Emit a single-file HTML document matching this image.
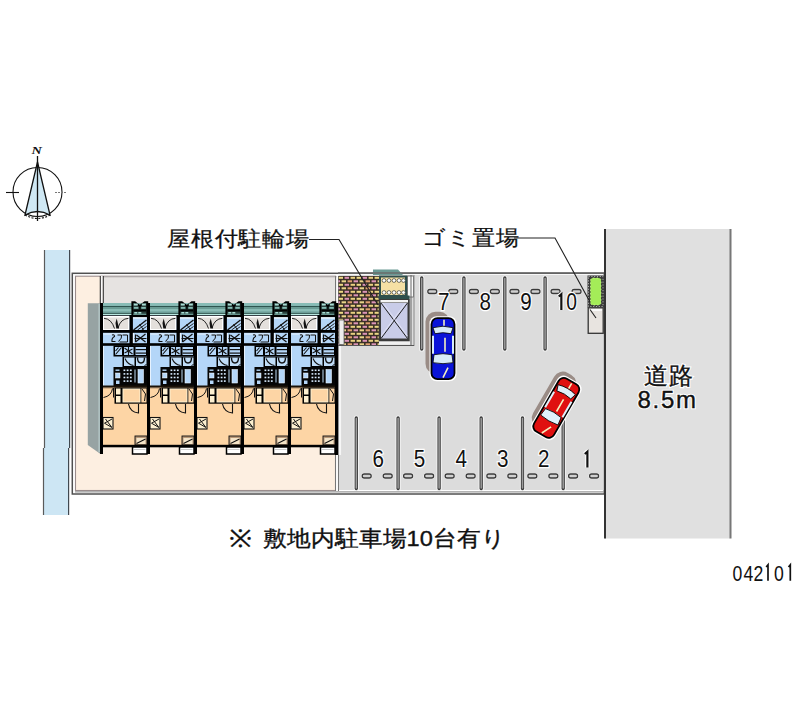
<!DOCTYPE html>
<html><head><meta charset="utf-8">
<style>
html,body{margin:0;padding:0;background:#fff;width:800px;height:727px;overflow:hidden}
svg{display:block}
text{font-family:"Liberation Sans",sans-serif}
</style></head><body>
<svg width="800" height="727" viewBox="0 0 800 727">
<defs>
<pattern id="brick" x="338" y="276" width="18" height="7" patternUnits="userSpaceOnUse">
<rect width="18" height="7" fill="#3a3026"/>
<rect x="0.6" y="0.8" width="4.4" height="2" fill="#ecd884"/>
<rect x="6.6" y="0.8" width="4.4" height="2" fill="#dc94b8"/>
<rect x="12.6" y="0.8" width="4.4" height="2" fill="#e8cf80"/>
<rect x="3.6" y="4.3" width="4.4" height="2" fill="#e8d488"/>
<rect x="9.6" y="4.3" width="4.4" height="2" fill="#e0a070"/>
<rect x="15.6" y="4.3" width="4.4" height="2" fill="#dc94b8"/>
<rect x="-2.4" y="4.3" width="4.4" height="2" fill="#dc94b8"/>
</pattern>
</defs>

<g fill="none" stroke="#111">
<circle cx="37.5" cy="192" r="24.5" stroke-width="1.1"/>
<path d="M37.5 162 L50 215 Q37.5 208 25 215 Z" fill="#cfe8f4" stroke-width="1.3"/>
<line x1="37.5" y1="156" x2="37.5" y2="221" stroke-width="1.3"/>
<line x1="6" y1="192.5" x2="19" y2="192.5" stroke-width="1.1"/>
<line x1="55" y1="192.5" x2="67" y2="192.5" stroke="#777" stroke-width="1" stroke-dasharray="2 1"/>
<path d="M25 215 Q37.5 222 50 215" stroke-width="1.1" stroke-dasharray="2 1.5"/>
</g>
<text x="31.5" y="154" style="font-family:'Liberation Serif',serif;font-style:italic;font-weight:bold" font-size="11" fill="#111" transform="translate(31.5 0) scale(1.3 1) translate(-31.5 0)">N</text>

<rect x="44" y="250" width="25" height="265" fill="#cde6f4"/>
<line x1="44.5" y1="250" x2="44.5" y2="448" stroke="#5a5a5a" stroke-width="1.2"/>
<line x1="43.5" y1="448" x2="43.5" y2="515" stroke="#5a5a5a" stroke-width="1.2"/>
<line x1="69.6" y1="250" x2="69.6" y2="448" stroke="#404850" stroke-width="1.2"/>
<line x1="68.6" y1="448" x2="68.6" y2="515" stroke="#404850" stroke-width="1.2"/>

<rect x="72.3" y="273.3" width="532" height="220.7" fill="#fff" stroke="#505050" stroke-width="1.5"/>
<rect x="75.5" y="276.2" width="260" height="214.3" fill="#fdefe1" stroke="#9a8c8c" stroke-width="1.1"/>
<rect x="336" y="276" width="2.2" height="215" fill="#fafafa"/>
<rect x="338.5" y="275" width="265" height="215" fill="#dcdcdc"/>
<line x1="75" y1="491.8" x2="604" y2="491.8" stroke="#9a9a9a" stroke-width="1.2"/>
<rect x="103.5" y="276.5" width="233" height="27" fill="#e6e3e1"/>
<rect x="103.5" y="276" width="233" height="1.3" fill="#b0aaaa"/>
<rect x="100.8" y="276" width="2" height="27.5" fill="#fafafa"/>
<line x1="100.3" y1="276" x2="100.3" y2="304" stroke="#333" stroke-width="1.1"/>
<line x1="103.3" y1="276" x2="103.3" y2="304" stroke="#333" stroke-width="1.1"/>
<line x1="335.5" y1="276" x2="335.5" y2="491" stroke="#777" stroke-width="1"/>
<line x1="338.5" y1="276" x2="338.5" y2="491" stroke="#777" stroke-width="1"/>
<!-- gray side wall -->
<path d="M87.8 303.3 L100.5 303.3 L100.5 454 L87.8 445 Z" fill="#97a3a3"/>
<rect x="98.5" y="304" width="1.2" height="148" fill="#b8cccc"/>

<g><rect x="101.5" y="303" width="47" height="12.3" fill="#7aaca6"/>
<rect x="101.5" y="303" width="47" height="2.8" fill="#88bcb6"/>
<rect x="101.5" y="306" width="47" height="1.2" fill="#2e5550"/>
<rect x="101.5" y="307.2" width="47" height="2" fill="#6a9c94"/>
<rect x="101.5" y="309.5" width="47" height="1" fill="#9cd0c8"/>
<rect x="101.5" y="312.8" width="47" height="1.2" fill="#3f6660"/>
<rect x="101.5" y="314" width="47" height="1.3" fill="#b8e8e0"/>
<rect x="101.5" y="315.3" width="47" height="72" fill="#b4d6f8"/>
<rect x="101.5" y="315.3" width="47" height="1" fill="#000"/>
<rect x="102.5" y="316" width="27" height="14" fill="#fff"/>
<rect x="104.0" y="317.5" width="24" height="11.5" fill="#e4e0dc"/>
<path d="M104.0 318.3 Q111.5 318.8 114.5 328.5 M128.5 318.3 Q120.5 318.8 118.0 328" fill="none" stroke="#111" stroke-width="0.9"/>
<path d="M116.7 318.5 L119.1 328.5 L116.3 328.5 L115.5 323 Z" fill="#111"/>
<rect x="129.5" y="315" width="3.4" height="31" fill="#000"/>
<rect x="133.0" y="317" width="13.5" height="1.6" fill="#f0f8ff"/>
<path d="M133.5 330 L146.5 320" stroke="#111" stroke-width="1.3" fill="none"/>
<path d="M137.5 330 L146.5 323.5 M141.5 330 L146.5 326.5 M139.5 324 L143.5 330" stroke="#111" stroke-width="0.9" fill="none"/>
<rect x="101.5" y="330" width="47" height="2.8" fill="#000"/>
<rect x="101.5" y="343.2" width="47" height="2.6" fill="#000"/>
<rect x="103.5" y="333.5" width="25" height="1" fill="#e8f4ff"/>
<path d="M112.0 335 Q114.5 334 114.5 336.5 Q111.5 338 112.0 341.5 L115.5 341.5" fill="none" stroke="#111" stroke-width="1.1"/>
<path d="M117.5 335 L121.5 335 Q122.5 338 118.5 341.5 M122.5 335 L127.5 335 L127.5 342 L119.5 342" fill="none" stroke="#111" stroke-width="1.0"/>
<rect x="132.9" y="333" width="1" height="10" fill="#f0f8ff"/>
<path d="M135.5 342 L145.5 334 M136.5 335 L145.5 342 M134.5 338.5 L146.5 338.5 M135.5 334.5 L135.5 342" stroke="#111" stroke-width="1.2"/>
<rect x="113.5" y="345.5" width="34" height="11" fill="#000"/>
<rect x="115.0" y="347" width="7" height="8" fill="#b4d6f8"/>
<path d="M115.5 354.5 L121.5 347.5 M115.5 351 L118.5 347.5" stroke="#111" stroke-width="1.1"/>
<rect x="124.0" y="347" width="9.5" height="8" fill="#b4d6f8"/>
<path d="M124.5 348 L132.5 354 M124.5 353 L132.5 349 M128.5 347 L128.5 355" stroke="#111" stroke-width="1.1"/>
<rect x="135.5" y="347" width="10.5" height="8" fill="#b4d6f8"/>
<rect x="135.5" y="349" width="10.5" height="1.2" fill="#111"/>
<rect x="135.5" y="352.5" width="10.5" height="1.2" fill="#111"/>
<rect x="122.5" y="356.5" width="25" height="10.5" fill="#000"/>
<rect x="124.0" y="357.5" width="10.5" height="8.5" fill="#c0ddf8"/>
<path d="M125.0 358.5 Q127.5 364.5 133.5 365.5" fill="none" stroke="#111" stroke-width="1.1"/>
<rect x="136.0" y="357.5" width="10.5" height="8.5" fill="#c0ddf8"/>
<path d="M137.5 357.5 Q137.5 363 141.0 363 Q144.5 363 144.5 357.5" fill="none" stroke="#111" stroke-width="1.4"/>
<path d="M144.5 366 L146.5 364" stroke="#111" stroke-width="1"/>
<rect x="113.5" y="367" width="34" height="20" fill="#050505"/>
<rect x="115.5" y="369.5" width="4" height="1.4" fill="#b4d6f8"/>
<rect x="115.5" y="373" width="4.5" height="5" fill="#b4d6f8" stroke="#fff" stroke-width="0.5"/>
<rect x="116.0" y="380.5" width="3.5" height="3.5" fill="#b4d6f8"/>
<rect x="123.5" y="369.5" width="1.8" height="1.6" fill="#d8ecff"/>
<rect x="126.7" y="369.5" width="1.8" height="1.6" fill="#d8ecff"/>
<rect x="129.9" y="369.5" width="1.8" height="1.6" fill="#d8ecff"/>
<rect x="123.5" y="373.1" width="1.8" height="1.6" fill="#d8ecff"/>
<rect x="126.7" y="373.1" width="1.8" height="1.6" fill="#d8ecff"/>
<rect x="129.9" y="373.1" width="1.8" height="1.6" fill="#d8ecff"/>
<rect x="123.5" y="376.7" width="1.8" height="1.6" fill="#d8ecff"/>
<rect x="126.7" y="376.7" width="1.8" height="1.6" fill="#d8ecff"/>
<rect x="129.9" y="376.7" width="1.8" height="1.6" fill="#d8ecff"/>
<rect x="123.5" y="380.3" width="1.8" height="1.6" fill="#d8ecff"/>
<rect x="126.7" y="380.3" width="1.8" height="1.6" fill="#d8ecff"/>
<rect x="129.9" y="380.3" width="1.8" height="1.6" fill="#d8ecff"/>
<rect x="134.5" y="369.5" width="1" height="13" fill="#c0ddf8"/>
<rect x="138.0" y="369.5" width="5.5" height="13.5" fill="#b4d6f8" stroke="#e8f4ff" stroke-width="0.6"/>
<rect x="103.0" y="346" width="1" height="41" fill="#e6f2ff"/>
<rect x="101.5" y="387" width="47" height="59" fill="#fdd5a5"/>
<rect x="101.5" y="385.5" width="47" height="2.2" fill="#1a1208"/>
<rect x="101.5" y="387.7" width="47" height="0.8" fill="#b09070"/>
<path d="M103.5 397.5 Q111.5 396 112.5 388.5" fill="none" stroke="#111" stroke-width="1"/>
<line x1="113.5" y1="388" x2="113.5" y2="397.5" stroke="#111" stroke-width="1"/>
<rect x="114.5" y="387.5" width="33" height="16.2" fill="#000"/>
<rect x="116.0" y="388.5" width="4.5" height="6" fill="#fdf0d0"/>
<rect x="116.0" y="396" width="4.5" height="6.5" fill="#fdf0d0"/>
<rect x="122.5" y="388.5" width="18" height="14" fill="#fdf0d0"/>
<rect x="123.5" y="389.5" width="16" height="12" fill="#fdd5a5"/>
<rect x="141.3" y="388.5" width="5.2" height="14" fill="#fdd5a5"/>
<path d="M142.0 389 L145.5 394 L144.5 401" fill="none" stroke="#111" stroke-width="1"/>
<path d="M128.5 404 Q130.0 412 138.5 413 L138.5 404" fill="none" stroke="#111" stroke-width="1.1"/>
<rect x="103.0" y="417.5" width="10" height="11.5" fill="#fdf0d0" stroke="#111" stroke-width="1.1"/>
<path d="M112.0 419 L104.5 423.2 L112.0 427.5 M105.5 419 L111.5 427" fill="none" stroke="#111" stroke-width="1"/>
<rect x="135.0" y="436" width="12" height="9" fill="#b89878" stroke="#111" stroke-width="0.9"/>
<rect x="136.5" y="438" width="9" height="6" fill="#f4e4c8"/>
<path d="M136.5 443.5 L145.5 439" stroke="#111" stroke-width="1.1"/>
<rect x="101.5" y="444.8" width="48" height="2.5" fill="#000"/>
<rect x="132.5" y="447" width="14.5" height="7" fill="#fff" stroke="#000" stroke-width="1.5"/>
<rect x="134.0" y="449" width="11.5" height="1" fill="#ccc"/>
<rect x="100.0" y="303" width="3" height="151" fill="#000"/></g>
<g><rect x="148.5" y="303" width="47" height="12.3" fill="#7aaca6"/>
<rect x="148.5" y="303" width="47" height="2.8" fill="#88bcb6"/>
<rect x="148.5" y="306" width="47" height="1.2" fill="#2e5550"/>
<rect x="148.5" y="307.2" width="47" height="2" fill="#6a9c94"/>
<rect x="148.5" y="309.5" width="47" height="1" fill="#9cd0c8"/>
<rect x="148.5" y="312.8" width="47" height="1.2" fill="#3f6660"/>
<rect x="148.5" y="314" width="47" height="1.3" fill="#b8e8e0"/>
<rect x="148.5" y="315.3" width="47" height="72" fill="#b4d6f8"/>
<rect x="148.5" y="315.3" width="47" height="1" fill="#000"/>
<rect x="149.5" y="316" width="27" height="14" fill="#fff"/>
<rect x="151.0" y="317.5" width="24" height="11.5" fill="#e4e0dc"/>
<path d="M151.0 318.3 Q158.5 318.8 161.5 328.5 M175.5 318.3 Q167.5 318.8 165.0 328" fill="none" stroke="#111" stroke-width="0.9"/>
<path d="M163.7 318.5 L166.1 328.5 L163.3 328.5 L162.5 323 Z" fill="#111"/>
<rect x="176.5" y="315" width="3.4" height="31" fill="#000"/>
<rect x="180.0" y="317" width="13.5" height="1.6" fill="#f0f8ff"/>
<path d="M180.5 330 L193.5 320" stroke="#111" stroke-width="1.3" fill="none"/>
<path d="M184.5 330 L193.5 323.5 M188.5 330 L193.5 326.5 M186.5 324 L190.5 330" stroke="#111" stroke-width="0.9" fill="none"/>
<rect x="148.5" y="330" width="47" height="2.8" fill="#000"/>
<rect x="148.5" y="343.2" width="47" height="2.6" fill="#000"/>
<rect x="150.5" y="333.5" width="25" height="1" fill="#e8f4ff"/>
<path d="M159.0 335 Q161.5 334 161.5 336.5 Q158.5 338 159.0 341.5 L162.5 341.5" fill="none" stroke="#111" stroke-width="1.1"/>
<path d="M164.5 335 L168.5 335 Q169.5 338 165.5 341.5 M169.5 335 L174.5 335 L174.5 342 L166.5 342" fill="none" stroke="#111" stroke-width="1.0"/>
<rect x="179.9" y="333" width="1" height="10" fill="#f0f8ff"/>
<path d="M182.5 342 L192.5 334 M183.5 335 L192.5 342 M181.5 338.5 L193.5 338.5 M182.5 334.5 L182.5 342" stroke="#111" stroke-width="1.2"/>
<rect x="160.5" y="345.5" width="34" height="11" fill="#000"/>
<rect x="162.0" y="347" width="7" height="8" fill="#b4d6f8"/>
<path d="M162.5 354.5 L168.5 347.5 M162.5 351 L165.5 347.5" stroke="#111" stroke-width="1.1"/>
<rect x="171.0" y="347" width="9.5" height="8" fill="#b4d6f8"/>
<path d="M171.5 348 L179.5 354 M171.5 353 L179.5 349 M175.5 347 L175.5 355" stroke="#111" stroke-width="1.1"/>
<rect x="182.5" y="347" width="10.5" height="8" fill="#b4d6f8"/>
<rect x="182.5" y="349" width="10.5" height="1.2" fill="#111"/>
<rect x="182.5" y="352.5" width="10.5" height="1.2" fill="#111"/>
<rect x="169.5" y="356.5" width="25" height="10.5" fill="#000"/>
<rect x="171.0" y="357.5" width="10.5" height="8.5" fill="#c0ddf8"/>
<path d="M172.0 358.5 Q174.5 364.5 180.5 365.5" fill="none" stroke="#111" stroke-width="1.1"/>
<rect x="183.0" y="357.5" width="10.5" height="8.5" fill="#c0ddf8"/>
<path d="M184.5 357.5 Q184.5 363 188.0 363 Q191.5 363 191.5 357.5" fill="none" stroke="#111" stroke-width="1.4"/>
<path d="M191.5 366 L193.5 364" stroke="#111" stroke-width="1"/>
<rect x="160.5" y="367" width="34" height="20" fill="#050505"/>
<rect x="162.5" y="369.5" width="4" height="1.4" fill="#b4d6f8"/>
<rect x="162.5" y="373" width="4.5" height="5" fill="#b4d6f8" stroke="#fff" stroke-width="0.5"/>
<rect x="163.0" y="380.5" width="3.5" height="3.5" fill="#b4d6f8"/>
<rect x="170.5" y="369.5" width="1.8" height="1.6" fill="#d8ecff"/>
<rect x="173.7" y="369.5" width="1.8" height="1.6" fill="#d8ecff"/>
<rect x="176.9" y="369.5" width="1.8" height="1.6" fill="#d8ecff"/>
<rect x="170.5" y="373.1" width="1.8" height="1.6" fill="#d8ecff"/>
<rect x="173.7" y="373.1" width="1.8" height="1.6" fill="#d8ecff"/>
<rect x="176.9" y="373.1" width="1.8" height="1.6" fill="#d8ecff"/>
<rect x="170.5" y="376.7" width="1.8" height="1.6" fill="#d8ecff"/>
<rect x="173.7" y="376.7" width="1.8" height="1.6" fill="#d8ecff"/>
<rect x="176.9" y="376.7" width="1.8" height="1.6" fill="#d8ecff"/>
<rect x="170.5" y="380.3" width="1.8" height="1.6" fill="#d8ecff"/>
<rect x="173.7" y="380.3" width="1.8" height="1.6" fill="#d8ecff"/>
<rect x="176.9" y="380.3" width="1.8" height="1.6" fill="#d8ecff"/>
<rect x="181.5" y="369.5" width="1" height="13" fill="#c0ddf8"/>
<rect x="185.0" y="369.5" width="5.5" height="13.5" fill="#b4d6f8" stroke="#e8f4ff" stroke-width="0.6"/>
<rect x="150.0" y="346" width="1" height="41" fill="#e6f2ff"/>
<rect x="148.5" y="387" width="47" height="59" fill="#fdd5a5"/>
<rect x="148.5" y="385.5" width="47" height="2.2" fill="#1a1208"/>
<rect x="148.5" y="387.7" width="47" height="0.8" fill="#b09070"/>
<path d="M150.5 397.5 Q158.5 396 159.5 388.5" fill="none" stroke="#111" stroke-width="1"/>
<line x1="160.5" y1="388" x2="160.5" y2="397.5" stroke="#111" stroke-width="1"/>
<rect x="161.5" y="387.5" width="33" height="16.2" fill="#000"/>
<rect x="163.0" y="388.5" width="4.5" height="6" fill="#fdf0d0"/>
<rect x="163.0" y="396" width="4.5" height="6.5" fill="#fdf0d0"/>
<rect x="169.5" y="388.5" width="18" height="14" fill="#fdf0d0"/>
<rect x="170.5" y="389.5" width="16" height="12" fill="#fdd5a5"/>
<rect x="188.3" y="388.5" width="5.2" height="14" fill="#fdd5a5"/>
<path d="M189.0 389 L192.5 394 L191.5 401" fill="none" stroke="#111" stroke-width="1"/>
<path d="M175.5 404 Q177.0 412 185.5 413 L185.5 404" fill="none" stroke="#111" stroke-width="1.1"/>
<rect x="150.0" y="417.5" width="10" height="11.5" fill="#fdf0d0" stroke="#111" stroke-width="1.1"/>
<path d="M159.0 419 L151.5 423.2 L159.0 427.5 M152.5 419 L158.5 427" fill="none" stroke="#111" stroke-width="1"/>
<rect x="182.0" y="436" width="12" height="9" fill="#b89878" stroke="#111" stroke-width="0.9"/>
<rect x="183.5" y="438" width="9" height="6" fill="#f4e4c8"/>
<path d="M183.5 443.5 L192.5 439" stroke="#111" stroke-width="1.1"/>
<rect x="148.5" y="444.8" width="48" height="2.5" fill="#000"/>
<rect x="179.5" y="447" width="14.5" height="7" fill="#fff" stroke="#000" stroke-width="1.5"/>
<rect x="181.0" y="449" width="11.5" height="1" fill="#ccc"/>
<rect x="147.0" y="303" width="3" height="151" fill="#000"/></g>
<g><rect x="195.5" y="303" width="47" height="12.3" fill="#7aaca6"/>
<rect x="195.5" y="303" width="47" height="2.8" fill="#88bcb6"/>
<rect x="195.5" y="306" width="47" height="1.2" fill="#2e5550"/>
<rect x="195.5" y="307.2" width="47" height="2" fill="#6a9c94"/>
<rect x="195.5" y="309.5" width="47" height="1" fill="#9cd0c8"/>
<rect x="195.5" y="312.8" width="47" height="1.2" fill="#3f6660"/>
<rect x="195.5" y="314" width="47" height="1.3" fill="#b8e8e0"/>
<rect x="195.5" y="315.3" width="47" height="72" fill="#b4d6f8"/>
<rect x="195.5" y="315.3" width="47" height="1" fill="#000"/>
<rect x="196.5" y="316" width="27" height="14" fill="#fff"/>
<rect x="198.0" y="317.5" width="24" height="11.5" fill="#e4e0dc"/>
<path d="M198.0 318.3 Q205.5 318.8 208.5 328.5 M222.5 318.3 Q214.5 318.8 212.0 328" fill="none" stroke="#111" stroke-width="0.9"/>
<path d="M210.7 318.5 L213.1 328.5 L210.3 328.5 L209.5 323 Z" fill="#111"/>
<rect x="223.5" y="315" width="3.4" height="31" fill="#000"/>
<rect x="227.0" y="317" width="13.5" height="1.6" fill="#f0f8ff"/>
<path d="M227.5 330 L240.5 320" stroke="#111" stroke-width="1.3" fill="none"/>
<path d="M231.5 330 L240.5 323.5 M235.5 330 L240.5 326.5 M233.5 324 L237.5 330" stroke="#111" stroke-width="0.9" fill="none"/>
<rect x="195.5" y="330" width="47" height="2.8" fill="#000"/>
<rect x="195.5" y="343.2" width="47" height="2.6" fill="#000"/>
<rect x="197.5" y="333.5" width="25" height="1" fill="#e8f4ff"/>
<path d="M206.0 335 Q208.5 334 208.5 336.5 Q205.5 338 206.0 341.5 L209.5 341.5" fill="none" stroke="#111" stroke-width="1.1"/>
<path d="M211.5 335 L215.5 335 Q216.5 338 212.5 341.5 M216.5 335 L221.5 335 L221.5 342 L213.5 342" fill="none" stroke="#111" stroke-width="1.0"/>
<rect x="226.9" y="333" width="1" height="10" fill="#f0f8ff"/>
<path d="M229.5 342 L239.5 334 M230.5 335 L239.5 342 M228.5 338.5 L240.5 338.5 M229.5 334.5 L229.5 342" stroke="#111" stroke-width="1.2"/>
<rect x="207.5" y="345.5" width="34" height="11" fill="#000"/>
<rect x="209.0" y="347" width="7" height="8" fill="#b4d6f8"/>
<path d="M209.5 354.5 L215.5 347.5 M209.5 351 L212.5 347.5" stroke="#111" stroke-width="1.1"/>
<rect x="218.0" y="347" width="9.5" height="8" fill="#b4d6f8"/>
<path d="M218.5 348 L226.5 354 M218.5 353 L226.5 349 M222.5 347 L222.5 355" stroke="#111" stroke-width="1.1"/>
<rect x="229.5" y="347" width="10.5" height="8" fill="#b4d6f8"/>
<rect x="229.5" y="349" width="10.5" height="1.2" fill="#111"/>
<rect x="229.5" y="352.5" width="10.5" height="1.2" fill="#111"/>
<rect x="216.5" y="356.5" width="25" height="10.5" fill="#000"/>
<rect x="218.0" y="357.5" width="10.5" height="8.5" fill="#c0ddf8"/>
<path d="M219.0 358.5 Q221.5 364.5 227.5 365.5" fill="none" stroke="#111" stroke-width="1.1"/>
<rect x="230.0" y="357.5" width="10.5" height="8.5" fill="#c0ddf8"/>
<path d="M231.5 357.5 Q231.5 363 235.0 363 Q238.5 363 238.5 357.5" fill="none" stroke="#111" stroke-width="1.4"/>
<path d="M238.5 366 L240.5 364" stroke="#111" stroke-width="1"/>
<rect x="207.5" y="367" width="34" height="20" fill="#050505"/>
<rect x="209.5" y="369.5" width="4" height="1.4" fill="#b4d6f8"/>
<rect x="209.5" y="373" width="4.5" height="5" fill="#b4d6f8" stroke="#fff" stroke-width="0.5"/>
<rect x="210.0" y="380.5" width="3.5" height="3.5" fill="#b4d6f8"/>
<rect x="217.5" y="369.5" width="1.8" height="1.6" fill="#d8ecff"/>
<rect x="220.7" y="369.5" width="1.8" height="1.6" fill="#d8ecff"/>
<rect x="223.9" y="369.5" width="1.8" height="1.6" fill="#d8ecff"/>
<rect x="217.5" y="373.1" width="1.8" height="1.6" fill="#d8ecff"/>
<rect x="220.7" y="373.1" width="1.8" height="1.6" fill="#d8ecff"/>
<rect x="223.9" y="373.1" width="1.8" height="1.6" fill="#d8ecff"/>
<rect x="217.5" y="376.7" width="1.8" height="1.6" fill="#d8ecff"/>
<rect x="220.7" y="376.7" width="1.8" height="1.6" fill="#d8ecff"/>
<rect x="223.9" y="376.7" width="1.8" height="1.6" fill="#d8ecff"/>
<rect x="217.5" y="380.3" width="1.8" height="1.6" fill="#d8ecff"/>
<rect x="220.7" y="380.3" width="1.8" height="1.6" fill="#d8ecff"/>
<rect x="223.9" y="380.3" width="1.8" height="1.6" fill="#d8ecff"/>
<rect x="228.5" y="369.5" width="1" height="13" fill="#c0ddf8"/>
<rect x="232.0" y="369.5" width="5.5" height="13.5" fill="#b4d6f8" stroke="#e8f4ff" stroke-width="0.6"/>
<rect x="197.0" y="346" width="1" height="41" fill="#e6f2ff"/>
<rect x="195.5" y="387" width="47" height="59" fill="#fdd5a5"/>
<rect x="195.5" y="385.5" width="47" height="2.2" fill="#1a1208"/>
<rect x="195.5" y="387.7" width="47" height="0.8" fill="#b09070"/>
<path d="M197.5 397.5 Q205.5 396 206.5 388.5" fill="none" stroke="#111" stroke-width="1"/>
<line x1="207.5" y1="388" x2="207.5" y2="397.5" stroke="#111" stroke-width="1"/>
<rect x="208.5" y="387.5" width="33" height="16.2" fill="#000"/>
<rect x="210.0" y="388.5" width="4.5" height="6" fill="#fdf0d0"/>
<rect x="210.0" y="396" width="4.5" height="6.5" fill="#fdf0d0"/>
<rect x="216.5" y="388.5" width="18" height="14" fill="#fdf0d0"/>
<rect x="217.5" y="389.5" width="16" height="12" fill="#fdd5a5"/>
<rect x="235.3" y="388.5" width="5.2" height="14" fill="#fdd5a5"/>
<path d="M236.0 389 L239.5 394 L238.5 401" fill="none" stroke="#111" stroke-width="1"/>
<path d="M222.5 404 Q224.0 412 232.5 413 L232.5 404" fill="none" stroke="#111" stroke-width="1.1"/>
<rect x="197.0" y="417.5" width="10" height="11.5" fill="#fdf0d0" stroke="#111" stroke-width="1.1"/>
<path d="M206.0 419 L198.5 423.2 L206.0 427.5 M199.5 419 L205.5 427" fill="none" stroke="#111" stroke-width="1"/>
<rect x="229.0" y="436" width="12" height="9" fill="#b89878" stroke="#111" stroke-width="0.9"/>
<rect x="230.5" y="438" width="9" height="6" fill="#f4e4c8"/>
<path d="M230.5 443.5 L239.5 439" stroke="#111" stroke-width="1.1"/>
<rect x="195.5" y="444.8" width="48" height="2.5" fill="#000"/>
<rect x="226.5" y="447" width="14.5" height="7" fill="#fff" stroke="#000" stroke-width="1.5"/>
<rect x="228.0" y="449" width="11.5" height="1" fill="#ccc"/>
<rect x="194.0" y="303" width="3" height="151" fill="#000"/></g>
<g><rect x="242.5" y="303" width="47" height="12.3" fill="#7aaca6"/>
<rect x="242.5" y="303" width="47" height="2.8" fill="#88bcb6"/>
<rect x="242.5" y="306" width="47" height="1.2" fill="#2e5550"/>
<rect x="242.5" y="307.2" width="47" height="2" fill="#6a9c94"/>
<rect x="242.5" y="309.5" width="47" height="1" fill="#9cd0c8"/>
<rect x="242.5" y="312.8" width="47" height="1.2" fill="#3f6660"/>
<rect x="242.5" y="314" width="47" height="1.3" fill="#b8e8e0"/>
<rect x="242.5" y="315.3" width="47" height="72" fill="#b4d6f8"/>
<rect x="242.5" y="315.3" width="47" height="1" fill="#000"/>
<rect x="243.5" y="316" width="27" height="14" fill="#fff"/>
<rect x="245.0" y="317.5" width="24" height="11.5" fill="#e4e0dc"/>
<path d="M245.0 318.3 Q252.5 318.8 255.5 328.5 M269.5 318.3 Q261.5 318.8 259.0 328" fill="none" stroke="#111" stroke-width="0.9"/>
<path d="M257.7 318.5 L260.1 328.5 L257.3 328.5 L256.5 323 Z" fill="#111"/>
<rect x="270.5" y="315" width="3.4" height="31" fill="#000"/>
<rect x="274.0" y="317" width="13.5" height="1.6" fill="#f0f8ff"/>
<path d="M274.5 330 L287.5 320" stroke="#111" stroke-width="1.3" fill="none"/>
<path d="M278.5 330 L287.5 323.5 M282.5 330 L287.5 326.5 M280.5 324 L284.5 330" stroke="#111" stroke-width="0.9" fill="none"/>
<rect x="242.5" y="330" width="47" height="2.8" fill="#000"/>
<rect x="242.5" y="343.2" width="47" height="2.6" fill="#000"/>
<rect x="244.5" y="333.5" width="25" height="1" fill="#e8f4ff"/>
<path d="M253.0 335 Q255.5 334 255.5 336.5 Q252.5 338 253.0 341.5 L256.5 341.5" fill="none" stroke="#111" stroke-width="1.1"/>
<path d="M258.5 335 L262.5 335 Q263.5 338 259.5 341.5 M263.5 335 L268.5 335 L268.5 342 L260.5 342" fill="none" stroke="#111" stroke-width="1.0"/>
<rect x="273.9" y="333" width="1" height="10" fill="#f0f8ff"/>
<path d="M276.5 342 L286.5 334 M277.5 335 L286.5 342 M275.5 338.5 L287.5 338.5 M276.5 334.5 L276.5 342" stroke="#111" stroke-width="1.2"/>
<rect x="254.5" y="345.5" width="34" height="11" fill="#000"/>
<rect x="256.0" y="347" width="7" height="8" fill="#b4d6f8"/>
<path d="M256.5 354.5 L262.5 347.5 M256.5 351 L259.5 347.5" stroke="#111" stroke-width="1.1"/>
<rect x="265.0" y="347" width="9.5" height="8" fill="#b4d6f8"/>
<path d="M265.5 348 L273.5 354 M265.5 353 L273.5 349 M269.5 347 L269.5 355" stroke="#111" stroke-width="1.1"/>
<rect x="276.5" y="347" width="10.5" height="8" fill="#b4d6f8"/>
<rect x="276.5" y="349" width="10.5" height="1.2" fill="#111"/>
<rect x="276.5" y="352.5" width="10.5" height="1.2" fill="#111"/>
<rect x="263.5" y="356.5" width="25" height="10.5" fill="#000"/>
<rect x="265.0" y="357.5" width="10.5" height="8.5" fill="#c0ddf8"/>
<path d="M266.0 358.5 Q268.5 364.5 274.5 365.5" fill="none" stroke="#111" stroke-width="1.1"/>
<rect x="277.0" y="357.5" width="10.5" height="8.5" fill="#c0ddf8"/>
<path d="M278.5 357.5 Q278.5 363 282.0 363 Q285.5 363 285.5 357.5" fill="none" stroke="#111" stroke-width="1.4"/>
<path d="M285.5 366 L287.5 364" stroke="#111" stroke-width="1"/>
<rect x="254.5" y="367" width="34" height="20" fill="#050505"/>
<rect x="256.5" y="369.5" width="4" height="1.4" fill="#b4d6f8"/>
<rect x="256.5" y="373" width="4.5" height="5" fill="#b4d6f8" stroke="#fff" stroke-width="0.5"/>
<rect x="257.0" y="380.5" width="3.5" height="3.5" fill="#b4d6f8"/>
<rect x="264.5" y="369.5" width="1.8" height="1.6" fill="#d8ecff"/>
<rect x="267.7" y="369.5" width="1.8" height="1.6" fill="#d8ecff"/>
<rect x="270.9" y="369.5" width="1.8" height="1.6" fill="#d8ecff"/>
<rect x="264.5" y="373.1" width="1.8" height="1.6" fill="#d8ecff"/>
<rect x="267.7" y="373.1" width="1.8" height="1.6" fill="#d8ecff"/>
<rect x="270.9" y="373.1" width="1.8" height="1.6" fill="#d8ecff"/>
<rect x="264.5" y="376.7" width="1.8" height="1.6" fill="#d8ecff"/>
<rect x="267.7" y="376.7" width="1.8" height="1.6" fill="#d8ecff"/>
<rect x="270.9" y="376.7" width="1.8" height="1.6" fill="#d8ecff"/>
<rect x="264.5" y="380.3" width="1.8" height="1.6" fill="#d8ecff"/>
<rect x="267.7" y="380.3" width="1.8" height="1.6" fill="#d8ecff"/>
<rect x="270.9" y="380.3" width="1.8" height="1.6" fill="#d8ecff"/>
<rect x="275.5" y="369.5" width="1" height="13" fill="#c0ddf8"/>
<rect x="279.0" y="369.5" width="5.5" height="13.5" fill="#b4d6f8" stroke="#e8f4ff" stroke-width="0.6"/>
<rect x="244.0" y="346" width="1" height="41" fill="#e6f2ff"/>
<rect x="242.5" y="387" width="47" height="59" fill="#fdd5a5"/>
<rect x="242.5" y="385.5" width="47" height="2.2" fill="#1a1208"/>
<rect x="242.5" y="387.7" width="47" height="0.8" fill="#b09070"/>
<path d="M244.5 397.5 Q252.5 396 253.5 388.5" fill="none" stroke="#111" stroke-width="1"/>
<line x1="254.5" y1="388" x2="254.5" y2="397.5" stroke="#111" stroke-width="1"/>
<rect x="255.5" y="387.5" width="33" height="16.2" fill="#000"/>
<rect x="257.0" y="388.5" width="4.5" height="6" fill="#fdf0d0"/>
<rect x="257.0" y="396" width="4.5" height="6.5" fill="#fdf0d0"/>
<rect x="263.5" y="388.5" width="18" height="14" fill="#fdf0d0"/>
<rect x="264.5" y="389.5" width="16" height="12" fill="#fdd5a5"/>
<rect x="282.3" y="388.5" width="5.2" height="14" fill="#fdd5a5"/>
<path d="M283.0 389 L286.5 394 L285.5 401" fill="none" stroke="#111" stroke-width="1"/>
<path d="M269.5 404 Q271.0 412 279.5 413 L279.5 404" fill="none" stroke="#111" stroke-width="1.1"/>
<rect x="244.0" y="417.5" width="10" height="11.5" fill="#fdf0d0" stroke="#111" stroke-width="1.1"/>
<path d="M253.0 419 L245.5 423.2 L253.0 427.5 M246.5 419 L252.5 427" fill="none" stroke="#111" stroke-width="1"/>
<rect x="276.0" y="436" width="12" height="9" fill="#b89878" stroke="#111" stroke-width="0.9"/>
<rect x="277.5" y="438" width="9" height="6" fill="#f4e4c8"/>
<path d="M277.5 443.5 L286.5 439" stroke="#111" stroke-width="1.1"/>
<rect x="242.5" y="444.8" width="48" height="2.5" fill="#000"/>
<rect x="273.5" y="447" width="14.5" height="7" fill="#fff" stroke="#000" stroke-width="1.5"/>
<rect x="275.0" y="449" width="11.5" height="1" fill="#ccc"/>
<rect x="241.0" y="303" width="3" height="151" fill="#000"/></g>
<g><rect x="289.5" y="303" width="47" height="12.3" fill="#7aaca6"/>
<rect x="289.5" y="303" width="47" height="2.8" fill="#88bcb6"/>
<rect x="289.5" y="306" width="47" height="1.2" fill="#2e5550"/>
<rect x="289.5" y="307.2" width="47" height="2" fill="#6a9c94"/>
<rect x="289.5" y="309.5" width="47" height="1" fill="#9cd0c8"/>
<rect x="289.5" y="312.8" width="47" height="1.2" fill="#3f6660"/>
<rect x="289.5" y="314" width="47" height="1.3" fill="#b8e8e0"/>
<rect x="289.5" y="315.3" width="47" height="72" fill="#b4d6f8"/>
<rect x="289.5" y="315.3" width="47" height="1" fill="#000"/>
<rect x="290.5" y="316" width="27" height="14" fill="#fff"/>
<rect x="292.0" y="317.5" width="24" height="11.5" fill="#e4e0dc"/>
<path d="M292.0 318.3 Q299.5 318.8 302.5 328.5 M316.5 318.3 Q308.5 318.8 306.0 328" fill="none" stroke="#111" stroke-width="0.9"/>
<path d="M304.7 318.5 L307.1 328.5 L304.3 328.5 L303.5 323 Z" fill="#111"/>
<rect x="317.5" y="315" width="3.4" height="31" fill="#000"/>
<rect x="321.0" y="317" width="13.5" height="1.6" fill="#f0f8ff"/>
<path d="M321.5 330 L334.5 320" stroke="#111" stroke-width="1.3" fill="none"/>
<path d="M325.5 330 L334.5 323.5 M329.5 330 L334.5 326.5 M327.5 324 L331.5 330" stroke="#111" stroke-width="0.9" fill="none"/>
<rect x="289.5" y="330" width="47" height="2.8" fill="#000"/>
<rect x="289.5" y="343.2" width="47" height="2.6" fill="#000"/>
<rect x="291.5" y="333.5" width="25" height="1" fill="#e8f4ff"/>
<path d="M300.0 335 Q302.5 334 302.5 336.5 Q299.5 338 300.0 341.5 L303.5 341.5" fill="none" stroke="#111" stroke-width="1.1"/>
<path d="M305.5 335 L309.5 335 Q310.5 338 306.5 341.5 M310.5 335 L315.5 335 L315.5 342 L307.5 342" fill="none" stroke="#111" stroke-width="1.0"/>
<rect x="320.9" y="333" width="1" height="10" fill="#f0f8ff"/>
<path d="M323.5 342 L333.5 334 M324.5 335 L333.5 342 M322.5 338.5 L334.5 338.5 M323.5 334.5 L323.5 342" stroke="#111" stroke-width="1.2"/>
<rect x="301.5" y="345.5" width="34" height="11" fill="#000"/>
<rect x="303.0" y="347" width="7" height="8" fill="#b4d6f8"/>
<path d="M303.5 354.5 L309.5 347.5 M303.5 351 L306.5 347.5" stroke="#111" stroke-width="1.1"/>
<rect x="312.0" y="347" width="9.5" height="8" fill="#b4d6f8"/>
<path d="M312.5 348 L320.5 354 M312.5 353 L320.5 349 M316.5 347 L316.5 355" stroke="#111" stroke-width="1.1"/>
<rect x="323.5" y="347" width="10.5" height="8" fill="#b4d6f8"/>
<rect x="323.5" y="349" width="10.5" height="1.2" fill="#111"/>
<rect x="323.5" y="352.5" width="10.5" height="1.2" fill="#111"/>
<rect x="310.5" y="356.5" width="25" height="10.5" fill="#000"/>
<rect x="312.0" y="357.5" width="10.5" height="8.5" fill="#c0ddf8"/>
<path d="M313.0 358.5 Q315.5 364.5 321.5 365.5" fill="none" stroke="#111" stroke-width="1.1"/>
<rect x="324.0" y="357.5" width="10.5" height="8.5" fill="#c0ddf8"/>
<path d="M325.5 357.5 Q325.5 363 329.0 363 Q332.5 363 332.5 357.5" fill="none" stroke="#111" stroke-width="1.4"/>
<path d="M332.5 366 L334.5 364" stroke="#111" stroke-width="1"/>
<rect x="301.5" y="367" width="34" height="20" fill="#050505"/>
<rect x="303.5" y="369.5" width="4" height="1.4" fill="#b4d6f8"/>
<rect x="303.5" y="373" width="4.5" height="5" fill="#b4d6f8" stroke="#fff" stroke-width="0.5"/>
<rect x="304.0" y="380.5" width="3.5" height="3.5" fill="#b4d6f8"/>
<rect x="311.5" y="369.5" width="1.8" height="1.6" fill="#d8ecff"/>
<rect x="314.7" y="369.5" width="1.8" height="1.6" fill="#d8ecff"/>
<rect x="317.9" y="369.5" width="1.8" height="1.6" fill="#d8ecff"/>
<rect x="311.5" y="373.1" width="1.8" height="1.6" fill="#d8ecff"/>
<rect x="314.7" y="373.1" width="1.8" height="1.6" fill="#d8ecff"/>
<rect x="317.9" y="373.1" width="1.8" height="1.6" fill="#d8ecff"/>
<rect x="311.5" y="376.7" width="1.8" height="1.6" fill="#d8ecff"/>
<rect x="314.7" y="376.7" width="1.8" height="1.6" fill="#d8ecff"/>
<rect x="317.9" y="376.7" width="1.8" height="1.6" fill="#d8ecff"/>
<rect x="311.5" y="380.3" width="1.8" height="1.6" fill="#d8ecff"/>
<rect x="314.7" y="380.3" width="1.8" height="1.6" fill="#d8ecff"/>
<rect x="317.9" y="380.3" width="1.8" height="1.6" fill="#d8ecff"/>
<rect x="322.5" y="369.5" width="1" height="13" fill="#c0ddf8"/>
<rect x="326.0" y="369.5" width="5.5" height="13.5" fill="#b4d6f8" stroke="#e8f4ff" stroke-width="0.6"/>
<rect x="291.0" y="346" width="1" height="41" fill="#e6f2ff"/>
<rect x="289.5" y="387" width="47" height="59" fill="#fdd5a5"/>
<rect x="289.5" y="385.5" width="47" height="2.2" fill="#1a1208"/>
<rect x="289.5" y="387.7" width="47" height="0.8" fill="#b09070"/>
<path d="M291.5 397.5 Q299.5 396 300.5 388.5" fill="none" stroke="#111" stroke-width="1"/>
<line x1="301.5" y1="388" x2="301.5" y2="397.5" stroke="#111" stroke-width="1"/>
<rect x="302.5" y="387.5" width="33" height="16.2" fill="#000"/>
<rect x="304.0" y="388.5" width="4.5" height="6" fill="#fdf0d0"/>
<rect x="304.0" y="396" width="4.5" height="6.5" fill="#fdf0d0"/>
<rect x="310.5" y="388.5" width="18" height="14" fill="#fdf0d0"/>
<rect x="311.5" y="389.5" width="16" height="12" fill="#fdd5a5"/>
<rect x="329.3" y="388.5" width="5.2" height="14" fill="#fdd5a5"/>
<path d="M330.0 389 L333.5 394 L332.5 401" fill="none" stroke="#111" stroke-width="1"/>
<path d="M316.5 404 Q318.0 412 326.5 413 L326.5 404" fill="none" stroke="#111" stroke-width="1.1"/>
<rect x="291.0" y="417.5" width="10" height="11.5" fill="#fdf0d0" stroke="#111" stroke-width="1.1"/>
<path d="M300.0 419 L292.5 423.2 L300.0 427.5 M293.5 419 L299.5 427" fill="none" stroke="#111" stroke-width="1"/>
<rect x="323.0" y="436" width="12" height="9" fill="#b89878" stroke="#111" stroke-width="0.9"/>
<rect x="324.5" y="438" width="9" height="6" fill="#f4e4c8"/>
<path d="M324.5 443.5 L333.5 439" stroke="#111" stroke-width="1.1"/>
<rect x="289.5" y="444.8" width="48" height="2.5" fill="#000"/>
<rect x="320.5" y="447" width="14.5" height="7" fill="#fff" stroke="#000" stroke-width="1.5"/>
<rect x="322.0" y="449" width="11.5" height="1" fill="#ccc"/>
<rect x="288.0" y="303" width="3" height="151" fill="#000"/></g>
<rect x="338.5" y="346" width="2.6" height="109" fill="#f6f6f6"/>
<rect x="335" y="303" width="3.2" height="152" fill="#000"/>
<path d="M132.3 315.5 L132.3 302.2 L134.8 302.2 L139.8 306 L144.8 302.2 L147.3 302.2 L147.3 315.5 Z" fill="#28403c" stroke="#000" stroke-width="1.8"/>
<rect x="133.8" y="303.5" width="4" height="2" fill="#a8dcd4"/>
<rect x="141.8" y="303.5" width="4" height="2" fill="#a8dcd4"/>
<rect x="133.8" y="307" width="4.5" height="1.8" fill="#84bab2"/>
<rect x="141.3" y="307" width="4.5" height="1.8" fill="#84bab2"/>
<rect x="139.3" y="305.5" width="1.2" height="4" fill="#000"/>
<rect x="133.3" y="309.5" width="13" height="2" fill="#000"/>
<rect x="134.3" y="312" width="3" height="1.6" fill="#a8dcd4"/>
<rect x="138.3" y="312" width="3" height="1.6" fill="#a8dcd4"/>
<rect x="133.3" y="313.8" width="13" height="1" fill="#7ab0a8"/>
<rect x="131.3" y="315.3" width="17" height="1.8" fill="#000"/>
<path d="M179.3 315.5 L179.3 302.2 L181.8 302.2 L186.8 306 L191.8 302.2 L194.3 302.2 L194.3 315.5 Z" fill="#28403c" stroke="#000" stroke-width="1.8"/>
<rect x="180.8" y="303.5" width="4" height="2" fill="#a8dcd4"/>
<rect x="188.8" y="303.5" width="4" height="2" fill="#a8dcd4"/>
<rect x="180.8" y="307" width="4.5" height="1.8" fill="#84bab2"/>
<rect x="188.3" y="307" width="4.5" height="1.8" fill="#84bab2"/>
<rect x="186.3" y="305.5" width="1.2" height="4" fill="#000"/>
<rect x="180.3" y="309.5" width="13" height="2" fill="#000"/>
<rect x="181.3" y="312" width="3" height="1.6" fill="#a8dcd4"/>
<rect x="185.3" y="312" width="3" height="1.6" fill="#a8dcd4"/>
<rect x="180.3" y="313.8" width="13" height="1" fill="#7ab0a8"/>
<rect x="178.3" y="315.3" width="17" height="1.8" fill="#000"/>
<path d="M226.3 315.5 L226.3 302.2 L228.8 302.2 L233.8 306 L238.8 302.2 L241.3 302.2 L241.3 315.5 Z" fill="#28403c" stroke="#000" stroke-width="1.8"/>
<rect x="227.8" y="303.5" width="4" height="2" fill="#a8dcd4"/>
<rect x="235.8" y="303.5" width="4" height="2" fill="#a8dcd4"/>
<rect x="227.8" y="307" width="4.5" height="1.8" fill="#84bab2"/>
<rect x="235.3" y="307" width="4.5" height="1.8" fill="#84bab2"/>
<rect x="233.3" y="305.5" width="1.2" height="4" fill="#000"/>
<rect x="227.3" y="309.5" width="13" height="2" fill="#000"/>
<rect x="228.3" y="312" width="3" height="1.6" fill="#a8dcd4"/>
<rect x="232.3" y="312" width="3" height="1.6" fill="#a8dcd4"/>
<rect x="227.3" y="313.8" width="13" height="1" fill="#7ab0a8"/>
<rect x="225.3" y="315.3" width="17" height="1.8" fill="#000"/>
<path d="M273.3 315.5 L273.3 302.2 L275.8 302.2 L280.8 306 L285.8 302.2 L288.3 302.2 L288.3 315.5 Z" fill="#28403c" stroke="#000" stroke-width="1.8"/>
<rect x="274.8" y="303.5" width="4" height="2" fill="#a8dcd4"/>
<rect x="282.8" y="303.5" width="4" height="2" fill="#a8dcd4"/>
<rect x="274.8" y="307" width="4.5" height="1.8" fill="#84bab2"/>
<rect x="282.3" y="307" width="4.5" height="1.8" fill="#84bab2"/>
<rect x="280.3" y="305.5" width="1.2" height="4" fill="#000"/>
<rect x="274.3" y="309.5" width="13" height="2" fill="#000"/>
<rect x="275.3" y="312" width="3" height="1.6" fill="#a8dcd4"/>
<rect x="279.3" y="312" width="3" height="1.6" fill="#a8dcd4"/>
<rect x="274.3" y="313.8" width="13" height="1" fill="#7ab0a8"/>
<rect x="272.3" y="315.3" width="17" height="1.8" fill="#000"/>
<path d="M320.3 315.5 L320.3 302.2 L322.8 302.2 L327.8 306 L332.8 302.2 L335.3 302.2 L335.3 315.5 Z" fill="#28403c" stroke="#000" stroke-width="1.8"/>
<rect x="321.8" y="303.5" width="4" height="2" fill="#a8dcd4"/>
<rect x="329.8" y="303.5" width="4" height="2" fill="#a8dcd4"/>
<rect x="321.8" y="307" width="4.5" height="1.8" fill="#84bab2"/>
<rect x="329.3" y="307" width="4.5" height="1.8" fill="#84bab2"/>
<rect x="327.3" y="305.5" width="1.2" height="4" fill="#000"/>
<rect x="321.3" y="309.5" width="13" height="2" fill="#000"/>
<rect x="322.3" y="312" width="3" height="1.6" fill="#a8dcd4"/>
<rect x="326.3" y="312" width="3" height="1.6" fill="#a8dcd4"/>
<rect x="321.3" y="313.8" width="13" height="1" fill="#7ab0a8"/>
<rect x="319.3" y="315.3" width="17" height="1.8" fill="#000"/>
<rect x="338.5" y="276" width="40.5" height="69" fill="url(#brick)"/>
<rect x="339" y="320" width="5" height="24.5" fill="#eeeeee" stroke="#666" stroke-width="0.8"/>
<path d="M373 275 L373 269.4 L398 269.4 L403 275 Z" fill="#6a9a94"/>
<rect x="379" y="275.5" width="28" height="21" fill="#2f4f4c"/>
<rect x="381" y="277.5" width="24" height="17.5" fill="#f6e0a4"/>
<g fill="#fff" stroke="#3a3a30" stroke-width="0.7">
<circle cx="384" cy="280.5" r="1.9"/><circle cx="389" cy="280.5" r="1.9"/><circle cx="394" cy="280.5" r="1.9"/><circle cx="399" cy="280.5" r="1.9"/><circle cx="403.5" cy="280.5" r="1.9"/>
<circle cx="384" cy="292.5" r="1.9"/><circle cx="389" cy="292.5" r="1.9"/><circle cx="394" cy="292.5" r="1.9"/><circle cx="399" cy="292.5" r="1.9"/><circle cx="403.5" cy="292.5" r="1.9"/>
</g>
<rect x="407.5" y="276" width="6" height="21" fill="#fafafa" stroke="#555" stroke-width="0.8"/>
<rect x="378.5" y="295.5" width="31" height="3.5" fill="#2f4f4c"/>
<rect x="378.7" y="299" width="31" height="42.5" fill="#3a3a3a"/>
<rect x="380.5" y="300" width="27.5" height="2.5" fill="#f4f4f4"/>
<rect x="381" y="303" width="26.5" height="35.5" fill="#c9cce8"/>
<path d="M381 303 L407.5 338.5 M407.5 303 L381 338.5" stroke="#222" stroke-width="1"/>
<path d="M383 303 L407.5 336 M405.5 303 L381 336" stroke="#eef" stroke-width="0.6"/>
<rect x="379" y="341.5" width="31" height="3" fill="#f0f0f0"/>
<line x1="411" y1="275" x2="411" y2="346" stroke="#666" stroke-width="1"/>
<line x1="414" y1="275" x2="414" y2="346" stroke="#888" stroke-width="1"/>
<line x1="338" y1="345.5" x2="414" y2="345.5" stroke="#555" stroke-width="1.2"/>

<line x1="338" y1="273" x2="604" y2="273" stroke="#6a6a6a" stroke-width="1.6"/>
<line x1="421.7" y1="278" x2="421.7" y2="349" stroke="#f4f4f4" stroke-width="5.2" stroke-linecap="round"/><line x1="421.7" y1="278" x2="421.7" y2="349" stroke="#3a3a3a" stroke-width="3.3" stroke-linecap="round"/><line x1="421.7" y1="278.5" x2="421.7" y2="348.5" stroke="#9c9c9c" stroke-width="1.5" stroke-linecap="round"/>
<line x1="463.9" y1="278" x2="463.9" y2="349" stroke="#f4f4f4" stroke-width="5.2" stroke-linecap="round"/><line x1="463.9" y1="278" x2="463.9" y2="349" stroke="#3a3a3a" stroke-width="3.3" stroke-linecap="round"/><line x1="463.9" y1="278.5" x2="463.9" y2="348.5" stroke="#9c9c9c" stroke-width="1.5" stroke-linecap="round"/>
<line x1="504.8" y1="278" x2="504.8" y2="349" stroke="#f4f4f4" stroke-width="5.2" stroke-linecap="round"/><line x1="504.8" y1="278" x2="504.8" y2="349" stroke="#3a3a3a" stroke-width="3.3" stroke-linecap="round"/><line x1="504.8" y1="278.5" x2="504.8" y2="348.5" stroke="#9c9c9c" stroke-width="1.5" stroke-linecap="round"/>
<line x1="545.1" y1="278" x2="545.1" y2="349" stroke="#f4f4f4" stroke-width="5.2" stroke-linecap="round"/><line x1="545.1" y1="278" x2="545.1" y2="349" stroke="#3a3a3a" stroke-width="3.3" stroke-linecap="round"/><line x1="545.1" y1="278.5" x2="545.1" y2="348.5" stroke="#9c9c9c" stroke-width="1.5" stroke-linecap="round"/>
<line x1="356.3" y1="418" x2="356.3" y2="488.5" stroke="#f4f4f4" stroke-width="5.2" stroke-linecap="round"/><line x1="356.3" y1="418" x2="356.3" y2="488.5" stroke="#3a3a3a" stroke-width="3.3" stroke-linecap="round"/><line x1="356.3" y1="418.5" x2="356.3" y2="488.0" stroke="#9c9c9c" stroke-width="1.5" stroke-linecap="round"/>
<line x1="398.1" y1="418" x2="398.1" y2="488.5" stroke="#f4f4f4" stroke-width="5.2" stroke-linecap="round"/><line x1="398.1" y1="418" x2="398.1" y2="488.5" stroke="#3a3a3a" stroke-width="3.3" stroke-linecap="round"/><line x1="398.1" y1="418.5" x2="398.1" y2="488.0" stroke="#9c9c9c" stroke-width="1.5" stroke-linecap="round"/>
<line x1="439.1" y1="418" x2="439.1" y2="488.5" stroke="#f4f4f4" stroke-width="5.2" stroke-linecap="round"/><line x1="439.1" y1="418" x2="439.1" y2="488.5" stroke="#3a3a3a" stroke-width="3.3" stroke-linecap="round"/><line x1="439.1" y1="418.5" x2="439.1" y2="488.0" stroke="#9c9c9c" stroke-width="1.5" stroke-linecap="round"/>
<line x1="481.2" y1="418" x2="481.2" y2="488.5" stroke="#f4f4f4" stroke-width="5.2" stroke-linecap="round"/><line x1="481.2" y1="418" x2="481.2" y2="488.5" stroke="#3a3a3a" stroke-width="3.3" stroke-linecap="round"/><line x1="481.2" y1="418.5" x2="481.2" y2="488.0" stroke="#9c9c9c" stroke-width="1.5" stroke-linecap="round"/>
<line x1="522.5" y1="418" x2="522.5" y2="488.5" stroke="#f4f4f4" stroke-width="5.2" stroke-linecap="round"/><line x1="522.5" y1="418" x2="522.5" y2="488.5" stroke="#3a3a3a" stroke-width="3.3" stroke-linecap="round"/><line x1="522.5" y1="418.5" x2="522.5" y2="488.0" stroke="#9c9c9c" stroke-width="1.5" stroke-linecap="round"/>
<line x1="563.2" y1="418" x2="563.2" y2="488.5" stroke="#f4f4f4" stroke-width="5.2" stroke-linecap="round"/><line x1="563.2" y1="418" x2="563.2" y2="488.5" stroke="#3a3a3a" stroke-width="3.3" stroke-linecap="round"/><line x1="563.2" y1="418.5" x2="563.2" y2="488.0" stroke="#9c9c9c" stroke-width="1.5" stroke-linecap="round"/>
<rect x="426.79999999999995" y="288.5" width="11" height="6" rx="3" fill="#fff"/><rect x="427.79999999999995" y="289.5" width="9" height="4" rx="2" fill="#d0d0d0" stroke="#3a3a3a" stroke-width="1.3"/>
<rect x="447.79999999999995" y="288.5" width="11" height="6" rx="3" fill="#fff"/><rect x="448.79999999999995" y="289.5" width="9" height="4" rx="2" fill="#d0d0d0" stroke="#3a3a3a" stroke-width="1.3"/>
<rect x="468.35" y="288.5" width="11" height="6" rx="3" fill="#fff"/><rect x="469.35" y="289.5" width="9" height="4" rx="2" fill="#d0d0d0" stroke="#3a3a3a" stroke-width="1.3"/>
<rect x="489.35" y="288.5" width="11" height="6" rx="3" fill="#fff"/><rect x="490.35" y="289.5" width="9" height="4" rx="2" fill="#d0d0d0" stroke="#3a3a3a" stroke-width="1.3"/>
<rect x="508.95000000000005" y="288.5" width="11" height="6" rx="3" fill="#fff"/><rect x="509.95000000000005" y="289.5" width="9" height="4" rx="2" fill="#d0d0d0" stroke="#3a3a3a" stroke-width="1.3"/>
<rect x="529.95" y="288.5" width="11" height="6" rx="3" fill="#fff"/><rect x="530.95" y="289.5" width="9" height="4" rx="2" fill="#d0d0d0" stroke="#3a3a3a" stroke-width="1.3"/>
<rect x="550.05" y="288.5" width="11" height="6" rx="3" fill="#fff"/><rect x="551.05" y="289.5" width="9" height="4" rx="2" fill="#d0d0d0" stroke="#3a3a3a" stroke-width="1.3"/>
<rect x="571.05" y="288.5" width="11" height="6" rx="3" fill="#fff"/><rect x="572.05" y="289.5" width="9" height="4" rx="2" fill="#d0d0d0" stroke="#3a3a3a" stroke-width="1.3"/>
<rect x="361.20000000000005" y="473" width="11" height="6" rx="3" fill="#fff"/><rect x="362.20000000000005" y="474" width="9" height="4" rx="2" fill="#d0d0d0" stroke="#3a3a3a" stroke-width="1.3"/>
<rect x="382.20000000000005" y="473" width="11" height="6" rx="3" fill="#fff"/><rect x="383.20000000000005" y="474" width="9" height="4" rx="2" fill="#d0d0d0" stroke="#3a3a3a" stroke-width="1.3"/>
<rect x="402.6" y="473" width="11" height="6" rx="3" fill="#fff"/><rect x="403.6" y="474" width="9" height="4" rx="2" fill="#d0d0d0" stroke="#3a3a3a" stroke-width="1.3"/>
<rect x="423.6" y="473" width="11" height="6" rx="3" fill="#fff"/><rect x="424.6" y="474" width="9" height="4" rx="2" fill="#d0d0d0" stroke="#3a3a3a" stroke-width="1.3"/>
<rect x="444.15" y="473" width="11" height="6" rx="3" fill="#fff"/><rect x="445.15" y="474" width="9" height="4" rx="2" fill="#d0d0d0" stroke="#3a3a3a" stroke-width="1.3"/>
<rect x="465.15" y="473" width="11" height="6" rx="3" fill="#fff"/><rect x="466.15" y="474" width="9" height="4" rx="2" fill="#d0d0d0" stroke="#3a3a3a" stroke-width="1.3"/>
<rect x="485.85" y="473" width="11" height="6" rx="3" fill="#fff"/><rect x="486.85" y="474" width="9" height="4" rx="2" fill="#d0d0d0" stroke="#3a3a3a" stroke-width="1.3"/>
<rect x="506.85" y="473" width="11" height="6" rx="3" fill="#fff"/><rect x="507.85" y="474" width="9" height="4" rx="2" fill="#d0d0d0" stroke="#3a3a3a" stroke-width="1.3"/>
<rect x="526.85" y="473" width="11" height="6" rx="3" fill="#fff"/><rect x="527.85" y="474" width="9" height="4" rx="2" fill="#d0d0d0" stroke="#3a3a3a" stroke-width="1.3"/>
<rect x="547.85" y="473" width="11" height="6" rx="3" fill="#fff"/><rect x="548.85" y="474" width="9" height="4" rx="2" fill="#d0d0d0" stroke="#3a3a3a" stroke-width="1.3"/>
<rect x="567.6" y="473" width="11" height="6" rx="3" fill="#fff"/><rect x="568.6" y="474" width="9" height="4" rx="2" fill="#d0d0d0" stroke="#3a3a3a" stroke-width="1.3"/>
<rect x="588.6" y="473" width="11" height="6" rx="3" fill="#fff"/><rect x="589.6" y="474" width="9" height="4" rx="2" fill="#d0d0d0" stroke="#3a3a3a" stroke-width="1.3"/>
<text x="443.79999999999995" y="310" font-size="24" text-anchor="middle" fill="#111" stroke="#fff" stroke-width="2.5" paint-order="stroke" transform="translate(443.79999999999995 0) scale(0.86 1) translate(-443.79999999999995 0)">7</text>
<text x="485.35" y="310" font-size="24" text-anchor="middle" fill="#111" stroke="#fff" stroke-width="2.5" paint-order="stroke" transform="translate(485.35 0) scale(0.86 1) translate(-485.35 0)">8</text>
<text x="525.95" y="310" font-size="24" text-anchor="middle" fill="#111" stroke="#fff" stroke-width="2.5" paint-order="stroke" transform="translate(525.95 0) scale(0.86 1) translate(-525.95 0)">9</text>
<path d="M558.55 296.66 L561.3499999999999 294.16 L561.3499999999999 310" fill="none" stroke="#fff" stroke-width="4.2" stroke-linejoin="round"/><path d="M558.75 296.46000000000004 L561.3499999999999 294.16 L561.3499999999999 310" fill="none" stroke="#111" stroke-width="2.2"/><text x="571.65" y="310" font-size="24" text-anchor="middle" fill="#111" stroke="#fff" stroke-width="2.5" paint-order="stroke" transform="translate(571.65 0) scale(0.8 1) translate(-571.65 0)">0</text>
<text x="378.20000000000005" y="467.5" font-size="24" text-anchor="middle" fill="#111" stroke="#fff" stroke-width="2.5" paint-order="stroke" transform="translate(378.20000000000005 0) scale(0.86 1) translate(-378.20000000000005 0)">6</text>
<text x="419.6" y="467.5" font-size="24" text-anchor="middle" fill="#111" stroke="#fff" stroke-width="2.5" paint-order="stroke" transform="translate(419.6 0) scale(0.86 1) translate(-419.6 0)">5</text>
<text x="461.15" y="467.5" font-size="24" text-anchor="middle" fill="#111" stroke="#fff" stroke-width="2.5" paint-order="stroke" transform="translate(461.15 0) scale(0.86 1) translate(-461.15 0)">4</text>
<text x="502.85" y="467.5" font-size="24" text-anchor="middle" fill="#111" stroke="#fff" stroke-width="2.5" paint-order="stroke" transform="translate(502.85 0) scale(0.86 1) translate(-502.85 0)">3</text>
<text x="543.85" y="467.5" font-size="24" text-anchor="middle" fill="#111" stroke="#fff" stroke-width="2.5" paint-order="stroke" transform="translate(543.85 0) scale(0.86 1) translate(-543.85 0)">2</text>
<path d="M584.6 454.16 L587.4 451.66 L587.4 467.5" fill="none" stroke="#fff" stroke-width="4.2" stroke-linejoin="round"/><path d="M584.8000000000001 453.96000000000004 L587.4 451.66 L587.4 467.5" fill="none" stroke="#111" stroke-width="2.2"/>
<rect x="587.5" y="275.5" width="16.5" height="32" fill="#3a3a3a"/>
<rect x="588.5" y="276.5" width="14.5" height="30" fill="none" stroke="#b8b8b8" stroke-width="0.9" stroke-dasharray="1.2 1.6"/>
<rect x="590.5" y="278" width="10.5" height="27" rx="2.5" fill="#a4ec58" stroke="#c8f890" stroke-width="0.8" stroke-dasharray="1.5 2"/>
<rect x="588.2" y="307.8" width="15" height="25.5" fill="#e8e4e0" stroke="#333" stroke-width="1.3"/>
<rect x="589.5" y="309" width="12.5" height="2" fill="#fafafa"/>
<path d="M590 309.5 L596 318" stroke="#222" stroke-width="1.1"/>

<g transform="translate(443 348.7)">
<rect x="-17.5" y="-37" width="24" height="62" rx="10" fill="#9a8c86"/>
<rect x="-13.5" y="-32.5" width="27" height="65" rx="7" fill="#fff"/>
<rect x="-11.5" y="-30.5" width="23" height="61" rx="6" fill="#0a14d8" stroke="#000" stroke-width="1.8"/>
<path d="M-10 -21 Q0 -24 10 -21 L8 -15 Q0 -17 -8 -15 Z" fill="#d8ecf8" stroke="#000" stroke-width="0.8"/>
<path d="M-9 6 Q0 4 9 6 L10 14 Q0 16 -10 14 Z" fill="#d8ecf8" stroke="#000" stroke-width="0.8"/>
<path d="M-11 -13 L-9 -13 L-9 5 L-11 5 Z M9 -13 L11 -13 L11 5 L9 5 Z" fill="#d8ecf8"/>
<path d="M1 -29 L1 -23 M2 -11 L2 3 M5 19 L0 29" stroke="#f4f0c0" stroke-width="1.6"/>
</g>
<g transform="translate(556.3 407.9) rotate(30)">
<rect x="-17.5" y="-36" width="24" height="62" rx="10" fill="#9a8c86"/>
<rect x="-13.5" y="-32.5" width="27" height="65" rx="7" fill="#fff"/>
<rect x="-11.5" y="-30.5" width="23" height="61" rx="6" fill="#e01010" stroke="#000" stroke-width="1.8"/>
<path d="M-10 -21 Q0 -24 10 -21 L8 -15 Q0 -17 -8 -15 Z" fill="#e0f0fa" stroke="#000" stroke-width="0.8"/>
<path d="M-9 6 Q0 4 9 6 L10 14 Q0 16 -10 14 Z" fill="#e0f0fa" stroke="#000" stroke-width="0.8"/>
<path d="M-11 -13 L-9 -13 L-9 5 L-11 5 Z M9 -13 L11 -13 L11 5 L9 5 Z" fill="#e0f0fa"/>
<path d="M1 -29 L1 -23 M2 -11 L2 3 M5 19 L0 29" stroke="#f4f0c0" stroke-width="1.6"/>
</g>
<rect x="605" y="229" width="125" height="309.5" fill="#e0e0e0"/>
<line x1="605" y1="229" x2="605" y2="538.5" stroke="#333" stroke-width="2"/>
<line x1="730.5" y1="229" x2="730.5" y2="538.5" stroke="#777" stroke-width="2"/>

<path d="M309 239.5 L339 239.5 L378 305" fill="none" stroke="#222" stroke-width="1.1"/>
<path d="M514 238 L555 238 L590 302" fill="none" stroke="#222" stroke-width="1.1"/>

<text x="167" y="246.5" font-size="21" letter-spacing="0.7" fill="#111" stroke="#111" stroke-width="0.25" transform="translate(167 0) scale(1.1 1) translate(-167 0)">屋根付駐輪場</text>
<text x="422" y="245.5" font-size="21" letter-spacing="1" fill="#111" stroke="#111" stroke-width="0.25" transform="translate(422 0) scale(1.1 1) translate(-422 0)">ゴミ置場</text>
<text x="229.5" y="547" font-size="24.5" fill="#111" stroke="#111" stroke-width="0.3" transform="translate(229.5 0) scale(1.12 1) translate(-229.5 0)">※</text>
<text x="263" y="546" font-size="22" letter-spacing="0.1" fill="#111" stroke="#111" stroke-width="0.35" transform="translate(263 0) scale(1.075 1) translate(-263 0)">敷地内駐車場10台有り</text>
<text x="644" y="384" font-size="23.5" letter-spacing="1" fill="#fff" stroke="#fff" stroke-width="2.5">道路</text><text x="644" y="384" font-size="23.5" letter-spacing="1" fill="#111" stroke="#111" stroke-width="0.35">道路</text>
<text x="637.5" y="408" font-size="24" letter-spacing="1.7" fill="#fff" stroke="#fff" stroke-width="2.5">8.5m</text><text x="637.5" y="408" font-size="24" letter-spacing="1.7" fill="#111" stroke="#111" stroke-width="0.4">8.5m</text>

<text x="737.4" y="580.8" font-size="22" text-anchor="middle" fill="#111" transform="translate(737.4 0) scale(0.8 1) translate(-737.4 0)">0</text>
<text x="748.4" y="580.8" font-size="22" text-anchor="middle" fill="#111" transform="translate(748.4 0) scale(0.8 1) translate(-748.4 0)">4</text>
<text x="758.5" y="580.8" font-size="22" text-anchor="middle" fill="#111" transform="translate(758.5 0) scale(0.8 1) translate(-758.5 0)">2</text>
<path d="M766.2 567 L768.0 564.8 L768.0 580.8" fill="none" stroke="#111" stroke-width="1.7"/>
<text x="778.9" y="580.8" font-size="22" text-anchor="middle" fill="#111" transform="translate(778.9 0) scale(0.8 1) translate(-778.9 0)">0</text>
<path d="M788.5 567 L790.3 564.8 L790.3 580.8" fill="none" stroke="#111" stroke-width="1.7"/>
</svg>
</body></html>
